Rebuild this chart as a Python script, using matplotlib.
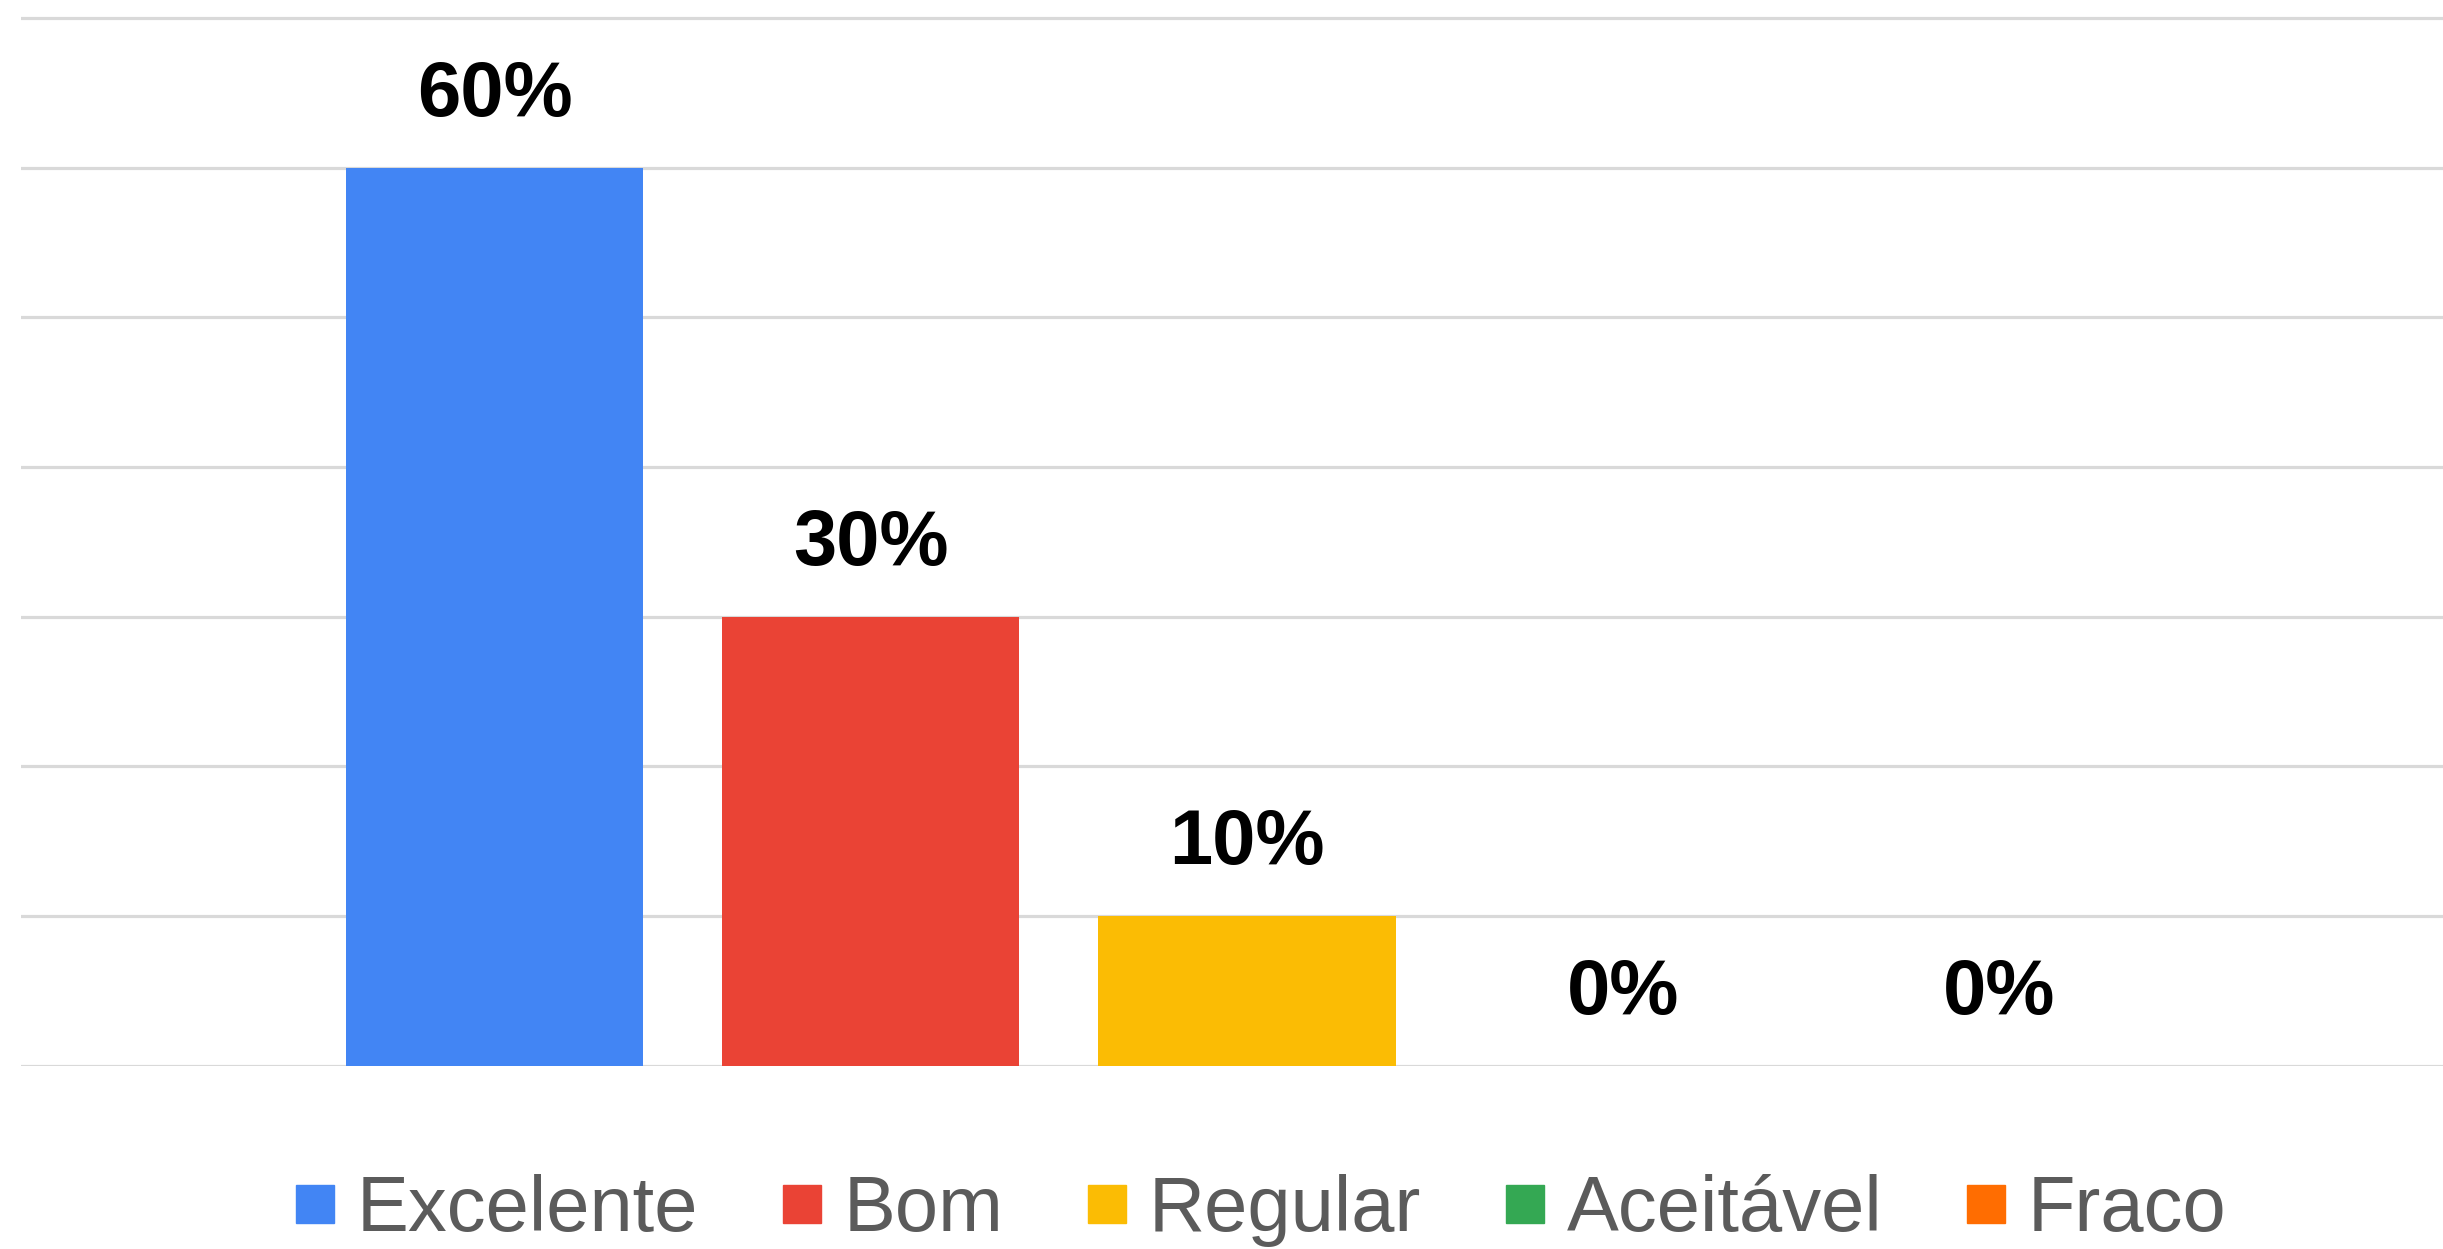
import matplotlib
matplotlib.use("Agg")
import matplotlib.pyplot as plt
from matplotlib.lines import Line2D

# data
categories = ["Excelente", "Bom", "Regular", "Aceitável", "Fraco"]
values = [0.60, 0.30, 0.10, 0.0, 0.0]
labels = ["60%", "30%", "10%", "0%", "0%"]
colors = ["#4285F4", "#EA4335", "#FBBC04", "#34A853", "#FF6D01"]
grid_ticks = [0.0, 0.1, 0.2, 0.3, 0.4, 0.5, 0.6, 0.7]

plt.rcParams["font.family"] = ["Liberation Sans", "DejaVu Sans"]

fig = plt.figure(figsize=(24.43, 12.49), dpi=100)
ax = fig.add_axes([0.0086, 0.1469, 0.9914, 0.8626])

x = list(range(len(categories)))
ax.bar(x, values, width=0.79, color=colors, zorder=2)

# value labels above bars
for xi, v, lab in zip(x, values, labels):
    ax.annotate(lab, (xi, v), xytext=(0, 37), textcoords="offset points",
                ha="center", va="baseline", fontsize=56, fontweight="bold",
                color="black")

ax.set_xlim(-1.2585, 5.179)
ax.set_ylim(0, 0.72)
ax.set_yticks(grid_ticks)
ax.yaxis.grid(True, color="#d9d9d9", linewidth=2.3, zorder=0)
ax.set_axisbelow(True)
ax.tick_params(left=False, bottom=False, labelleft=False, labelbottom=False)
for s in ax.spines.values():
    s.set_visible(False)

# legend
handles = [Line2D([], [], linestyle="none", marker="s", markersize=27,
                  markerfacecolor=c, markeredgecolor=c) for c in colors]
fig.legend(handles, categories, loc="center", bbox_to_anchor=(0.516, 0.031),
           ncol=5, frameon=False, fontsize=56, labelcolor="#5b5b5b",
           handlelength=0.52, handletextpad=0.27, columnspacing=1.08,
           borderpad=0, borderaxespad=0)

fig.savefig("out.png", dpi=100)
